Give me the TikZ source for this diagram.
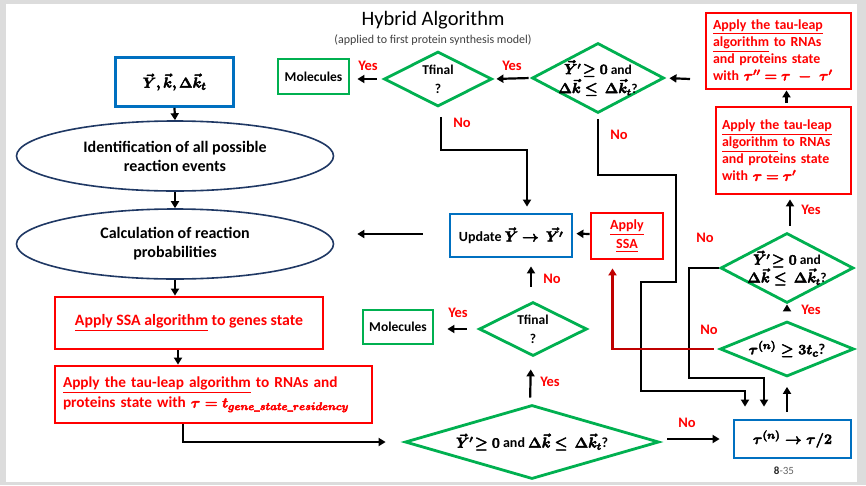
\documentclass[tikz,border=0pt]{standalone}
\usepackage{amsmath}
\usepackage[no-math]{fontspec}
\setmainfont{Carlito}
\usepackage{bm}
\usetikzlibrary{shapes.geometric,arrows.meta,calc}
\definecolor{cblue}{HTML}{0070C0}
\definecolor{cgrn}{HTML}{00B050}
\definecolor{cred}{HTML}{FF0000}
\definecolor{cdred}{HTML}{C00000}
\definecolor{cnavy}{HTML}{1F3864}
\definecolor{cbg}{HTML}{DCDCDC}
\newcommand\mymb[1]{\special{pdf:literal direct 2 Tr 0.45 w}$\boldmath\bm{#1}$\special{pdf:literal direct 0 Tr}}
\tikzset{
  bluebox/.style={draw=cblue, line width=2.8pt, inner sep=0pt, font=\bfseries\fontsize{14}{17}\selectfont},
  redbox/.style={draw=cred, line width=2.8pt, text=cred, inner sep=0pt},
  grnbox/.style={draw=cgrn, line width=2.8pt, inner sep=0pt, font=\bfseries\fontsize{13.5}{16}\selectfont},
  diam/.style={diamond, draw=cgrn, line width=2.8pt, inner sep=0pt},
  dtext/.style={font=\bfseries\fontsize{13.5}{19}\selectfont, align=center, inner sep=0pt},
  ell/.style={ellipse, draw=cnavy, line width=1.6pt, inner sep=0pt, align=center, font=\bfseries\fontsize{16}{19}\selectfont},
  arr/.style={draw, line width=2.2pt, -{Triangle[length=7pt,width=8pt]}},
  redarr/.style={draw=cdred, line width=2.2pt, -{Triangle[length=7pt,width=8pt]}},
  lab/.style={text=cred, font=\bfseries\fontsize{14.5}{16}\selectfont, inner sep=0pt},
}
\begin{document}
\begin{tikzpicture}[x=1pt,y=-1pt]
\useasboundingbox (0,0) rectangle (866,485);
\fill[cbg] (0,0) rectangle (866,485);
\fill[white] (6,4) rectangle (857,482);

% title
\node[font=\fontsize{20.5}{24}\selectfont] (title) at (433,20) {Hybrid Algorithm};
\node[font=\fontsize{12}{14}\selectfont, text=black!75] (sub) at (433,40) {(applied to first protein synthesis model)};

% left column
\node[bluebox, minimum width=118, minimum height=49, font=\bfseries\fontsize{15.5}{17}\selectfont] (inp) at (174.5,82) {\mymb{\vec{Y}, \vec{k}, \Delta\vec{k}_t}};
\node[ell, minimum width=317, minimum height=70] (e1) at (175,156) {Identification of all possible\\reaction events};
\node[ell, minimum width=317, minimum height=70] (e2) at (175,244) {Calculation of reaction\\probabilities};
\node[redbox, minimum width=268, minimum height=52, font=\bfseries\fontsize{15.8}{20}\selectfont] (ssa1) at (189,323) {\underline{Apply SSA algorithm} to genes state};
\node[redbox, minimum width=317, minimum height=57, text width=301, align=left, font=\bfseries\fontsize{15.3}{20}\selectfont] (tl0) at (213.5,394.5) {\underline{Apply the tau-leap algorithm} to RNAs and\\proteins state with \mymb{\tau = t_{gene\_state\_residency}}};

\draw[arr] (inp.south) -- (e1.north);
\draw[arr] (e1.south) -- (e2.north);
\draw[arr] (e2.south) -- (e2.south |- ssa1.north);
\draw[arr] ([xshift=-11pt]ssa1.south) -- ([xshift=-11pt]ssa1.south |- tl0.north);

% bottom diamond
\node[diam, minimum width=254, minimum height=74] (dB) at (532,442) {};
\node[dtext, font=\bfseries\fontsize{14}{19}\selectfont] (dBt) at (dB.center) {\mymb{\vec{Y}'\!\geq 0} and \mymb{\Delta\vec{k} \leq\ \Delta\vec{k}_t}?};
\draw[arr, shorten >=18pt] ([xshift=-30.5pt]tl0.south) |- (dB.west);

% lower Tfinal
\node[diam, minimum width=108, minimum height=54] (tfL) at (533,329) {};
\node[dtext] (tfLt) at (tfL.center) {Tfinal\\?};
\node[grnbox, minimum width=70, minimum height=34] (molL) at (398,327) {Molecules};
\draw[arr, shorten <=6pt, shorten >=12pt] ([xshift=-2pt]dB.north) -- ([xshift=-2pt]tfL.south);
\node[lab] (yB) at (550,382) {Yes};
\draw[arr, shorten <=11pt, shorten >=13pt] (tfL.west) -- (tfL.west -| molL.east);
\node[lab] (yL) at (458,313) {Yes};

% update & SSA
\node[bluebox, minimum width=122, minimum height=43] (upd) at (511,235.5) {Update \mymb{\vec{Y} \to\ \vec{Y'}}};
\node[redbox, minimum width=72, minimum height=46, align=center, font=\bfseries\fontsize{14}{19}\selectfont] (ssa2) at (627,236) {\underline{Apply}\\\underline{SSA}};
\draw[arr, shorten <=14pt, shorten >=8pt] ([xshift=-2pt]tfL.north) -- ([xshift=-2pt]tfL.north |- upd.south);
\node[lab] (nL) at (552,279) {No};
\draw[arr, shorten >=3pt] ([yshift=2pt]ssa2.west) -- ([yshift=2pt]upd.east);
\draw[arr, shorten <=26pt, shorten >=23pt] ([yshift=1.5pt]upd.west) -- ([yshift=1.5pt]upd.west -| e2.east);

% top row
\node[diam, minimum width=132, minimum height=70] (dT) at (598,78) {};
\node[dtext] (dTt) at (dT.center) {\mymb{\vec{Y}'\!\geq 0} and\\\mymb{\Delta\vec{k} \leq\ \Delta\vec{k}_t}?};
\node[diam, minimum width=108, minimum height=55] (tfT) at (438,79) {};
\node[dtext] (tfTt) at (tfT.center) {Tfinal\\?};
\node[grnbox, minimum width=71, minimum height=35] (molT) at (313.5,76.5) {Molecules};
\coordinate (cin) at (690,79);
\draw[arr, shorten >=4pt] (cin) -- (dT.east);
\draw[arr, shorten <=2pt, shorten >=3pt] (dT.west) -- (tfT.east);
\node[lab] (yT1) at (512,66) {Yes};
\draw[arr, shorten <=6pt, shorten >=7pt] (tfT.west) -- (tfT.west -| molT.east);
\node[lab] (yT2) at (368,66) {Yes};
\draw[arr, shorten <=9pt] ([xshift=3pt]tfT.south) -- ++(0,42) -| ([xshift=16pt,yshift=6pt]upd.north);
\node[lab] (nT) at (462,123) {No};

% right column
\node[redbox, minimum width=145, minimum height=76, text width=131, align=left, font=\bfseries\fontsize{13.9}{17}\selectfont] (tl1) at (778.5,51) {\underline{Apply the tau-leap}\\\underline{algorithm} to RNAs\\and proteins state\\with \mymb{\tau'' = \tau\ -\ \tau'}};
\node[redbox, minimum width=135, minimum height=87, text width=123, align=left, font=\bfseries\fontsize{13.9}{17}\selectfont] (tl2) at (783.5,150.5) {\underline{Apply the tau-leap}\\\underline{algorithm} to RNAs\\and proteins state\\with \mymb{\tau = \tau'}};
\node[diam, minimum width=133, minimum height=70] (dM) at (787,268) {};
\node[dtext, font=\bfseries\fontsize{13.5}{18}\selectfont] (dMt) at (dM.center) {\mymb{\vec{Y}'\!\geq 0} and\\\mymb{\Delta\vec{k} \leq\ \Delta\vec{k}_t}?};
\node[diam, minimum width=134, minimum height=55] (d3) at (787,349) {};
\node[dtext, font=\bfseries\fontsize{15}{18}\selectfont] (d3t) at (d3.center) {\mymb{\tau^{(n)} \geq 3t_c}?};
\node[bluebox, minimum width=117, minimum height=38, font=\bfseries\fontsize{15}{18}\selectfont] (tau) at (792.5,439) {\mymb{\tau^{(n)} \to \tau/2}};

\draw[arr, shorten <=3pt] ([xshift=3pt]tl2.north) -- ([xshift=3pt]tl2.north |- tl1.south);
\draw[arr, shorten <=6pt, shorten >=4pt] ([xshift=3pt]dM.north) -- ([xshift=3pt]dM.north |- tl2.south);
\node[lab] (yM) at (811,210) {Yes};
\draw[arr, shorten <=12pt] (d3.north) -- (dM.south);
\node[lab] (y3) at (811,310) {Yes};
\draw[arr, shorten <=7pt, shorten >=9pt] ([xshift=-5.5pt]tau.north) -- (d3.south);
\draw[arr, shorten <=7pt, shorten >=13pt] (tau.west -| dB.east) -- (tau.west);
\node[lab] (nB) at (687,423) {No};

\draw[arr, shorten <=5pt] (dT.south) |- (676,175) |- (641,282) |- (745,391) -- ([xshift=-47.5pt,yshift=12pt]tau.north);
\node[lab] (nT2) at (619,135) {No};
\draw[arr] (dM.west) -| (689,378) -| ([xshift=-28.5pt,yshift=12pt]tau.north);
\node[lab] (nM) at (705,238) {No};
\draw[redarr, shorten <=5pt, shorten >=8pt] (d3.west) -| ([xshift=-14.5pt]ssa2.south);
\node[lab] (n3) at (709,330) {No};

\node[font=\fontsize{11}{12}\selectfont, text=black!60] (pg) at (784,471) {\textbf{\color{black!85}8}-35};
\end{tikzpicture}
\end{document}
